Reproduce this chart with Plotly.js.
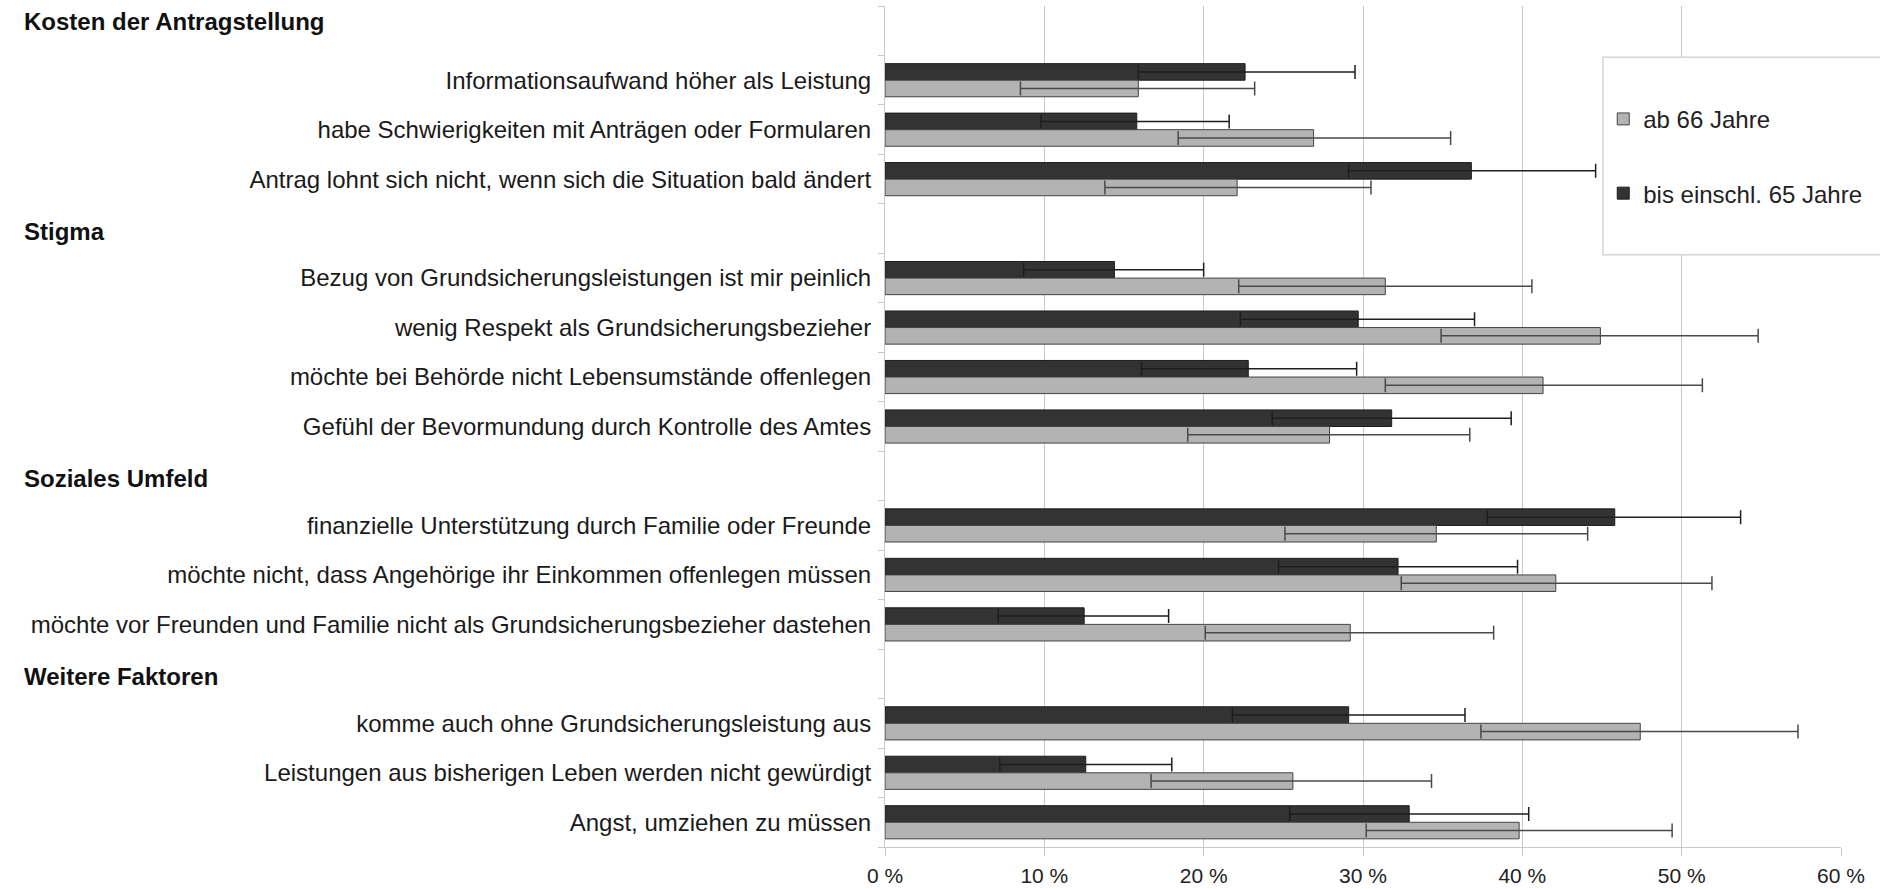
<!DOCTYPE html>
<html>
<head>
<meta charset="utf-8">
<script src="https://cdn.plot.ly/plotly-3.0.1.min.js"></script>
<style>
  html, body { margin: 0; padding: 0; background: #ffffff; }
  #chart { width: 1880px; height: 889px; }
</style>
</head>
<body>
<div id="chart"></div>
<script>
// ---- data (values in %) ----
const categories = [
  "Kosten der Antragstellung",
  "Informationsaufwand höher als Leistung",
  "habe Schwierigkeiten mit Anträgen oder Formularen",
  "Antrag lohnt sich nicht, wenn sich die Situation bald ändert",
  "Stigma",
  "Bezug von Grundsicherungsleistungen ist mir peinlich",
  "wenig Respekt als Grundsicherungsbezieher",
  "möchte bei Behörde nicht Lebensumstände offenlegen",
  "Gefühl der Bevormundung durch Kontrolle des Amtes",
  "Soziales Umfeld",
  "finanzielle Unterstützung durch Familie oder Freunde",
  "möchte nicht, dass Angehörige ihr Einkommen offenlegen müssen",
  "möchte vor Freunden und Familie nicht als Grundsicherungsbezieher dastehen",
  "Weitere Faktoren",
  "komme auch ohne Grundsicherungsleistung aus",
  "Leistungen aus bisherigen Leben werden nicht gewürdigt",
  "Angst, umziehen zu müssen"
];
const headers = ["Kosten der Antragstellung", "Stigma", "Soziales Umfeld", "Weitere Faktoren"];

const seriesNames = ["bis einschl. 65 Jahre", "ab 66 Jahre"];

// bis einschl. 65 Jahre
const youngValue = [null, 22.6, 15.8, 36.8, null, 14.4, 29.7, 22.8, 31.8, null, 45.8, 32.2, 12.5, null, 29.1, 12.6, 32.9];
const youngLow   = [null, 15.9,  9.8, 29.1, null,  8.7, 22.3, 16.1, 24.3, null, 37.8, 24.7,  7.1, null, 21.8,  7.2, 25.4];
const youngHigh  = [null, 29.5, 21.6, 44.6, null, 20.0, 37.0, 29.6, 39.3, null, 53.7, 39.7, 17.8, null, 36.4, 18.0, 40.4];

// ab 66 Jahre
const oldValue = [null, 15.9, 26.9, 22.1, null, 31.4, 44.9, 41.3, 27.9, null, 34.6, 42.1, 29.2, null, 47.4, 25.6, 39.8];
const oldLow   = [null,  8.5, 18.4, 13.8, null, 22.2, 34.9, 31.4, 19.0, null, 25.1, 32.4, 20.1, null, 37.4, 16.7, 30.2];
const oldHigh  = [null, 23.2, 35.5, 30.5, null, 40.6, 54.8, 51.3, 36.7, null, 44.1, 51.9, 38.2, null, 57.3, 34.3, 49.4];

const xTickVals = [0, 10, 20, 30, 40, 50, 60];
const xTickText = ["0 %", "10 %", "20 %", "30 %", "40 %", "50 %", "60 %"];

// ---- helpers ----
const plus  = (v, hi) => v.map((d, i) => d == null ? null : hi[i] - d);
const minus = (v, lo) => v.map((d, i) => d == null ? null : d - lo[i]);

const FONT = '"Liberation Sans", Arial, sans-serif';

const traces = [
  {
    type: 'bar', orientation: 'h',
    name: seriesNames[0], legendgroup: 'g1', legendrank: 2,
    y: categories, x: youngValue,
    marker: { color: '#333333', line: { color: '#1e1e1e', width: 1 } },
    error_x: { type: 'data', symmetric: false,
      array: plus(youngValue, youngHigh), arrayminus: minus(youngValue, youngLow),
      color: '#1e1e1e', thickness: 1.5, width: 7 },
    hoverinfo: 'x+y'
  },
  {
    type: 'bar', orientation: 'h',
    name: seriesNames[1], legendgroup: 'g2', legendrank: 1,
    y: categories, x: oldValue,
    marker: { color: '#b3b3b3', line: { color: '#444444', width: 1 } },
    error_x: { type: 'data', symmetric: false,
      array: plus(oldValue, oldHigh), arrayminus: minus(oldValue, oldLow),
      color: '#4a4a4a', thickness: 1.5, width: 7 },
    hoverinfo: 'x+y'
  }
];

const annotations = headers.map((h, i) => ({
  text: '<b>' + h + '</b>',
  xref: 'paper', x: -0.9027, xanchor: 'left',
  yref: 'y', y: h, yanchor: 'middle',
  yshift: i === 0 ? 9 : -3,
  showarrow: false,
  font: { family: FONT, size: 24, color: '#111111' }
}));

const layout = {
  width: 1880, height: 889,
  margin: { l: 885, r: 39, t: 5.5, b: 42, pad: 0 },
  paper_bgcolor: '#ffffff', plot_bgcolor: '#ffffff',
  barmode: 'group', bargap: 0.33, bargroupgap: 0,
  showlegend: true,
  legend: {
    x: 0.7513, xanchor: 'left', y: 0.892, yanchor: 'top',
    bgcolor: 'rgba(0,0,0,0)', borderwidth: 0,
    traceorder: 'grouped', tracegroupgap: 40,
    font: { family: FONT, size: 24, color: '#222222' }
  },
  xaxis: {
    range: [0, 60], tickvals: xTickVals, ticktext: xTickText,
    showgrid: true, gridcolor: '#c8c8c8', gridwidth: 1,
    zeroline: false,
    showline: true, linecolor: '#c8c8c8', linewidth: 1,
    ticks: 'outside', ticklen: 8, tickcolor: '#c8c8c8',
    ticklabelstandoff: 2,
    tickfont: { family: FONT, size: 21, color: '#222222' },
    fixedrange: true
  },
  yaxis: {
    type: 'category', categoryorder: 'array', categoryarray: categories,
    autorange: 'reversed',
    tickvals: categories,
    ticktext: categories.map(c => headers.includes(c) ? '' : c),
    tickson: 'boundaries',
    ticks: 'outside', ticklen: 6, tickcolor: '#c8c8c8',
    ticklabelstandoff: 8,
    showgrid: false, zeroline: false,
    showline: true, linecolor: '#c8c8c8', linewidth: 1,
    tickfont: { family: FONT, size: 24, color: '#1a1a1a' },
    fixedrange: true
  },
  shapes: [{
    type: 'rect', xref: 'paper', yref: 'paper',
    x0: 0.751, x1: 1.2, y0: 0.7041, y1: 0.939,
    fillcolor: '#ffffff', line: { color: '#d4d4d4', width: 1.5 },
    layer: 'above'
  }],
  annotations: annotations
};

Plotly.newPlot('chart', traces, layout, { displayModeBar: false, staticPlot: true });
</script>
</body>
</html>
